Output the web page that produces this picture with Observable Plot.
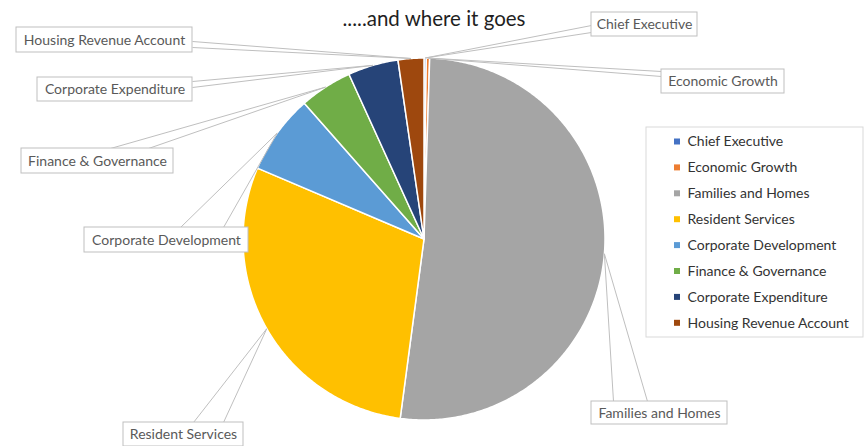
<!DOCTYPE html>
<html><head><meta charset="utf-8">
<script src="https://cdn.jsdelivr.net/npm/d3@7"></script>
<script src="https://cdn.jsdelivr.net/npm/@observablehq/plot@0.6"></script>
<style>body{margin:0;background:#fff;overflow:hidden}</style>
</head><body><div id="chart"></div>
<script>
// ---- data ----
const title = ".....and where it goes";
const categories = ["Chief Executive", "Economic Growth", "Families and Homes", "Resident Services",
  "Corporate Development", "Finance & Governance", "Corporate Expenditure", "Housing Revenue Account"];
const values = [0.2, 0.3, 51.6, 29.3, 7.1, 4.7, 4.5, 2.3];
const colors = ["#4472C4", "#ED7D31", "#A5A5A5", "#FFC000", "#5B9BD5", "#70AD47", "#264478", "#9E480E"];

// ---- layout (pixels) ----
const W = 864, H = 446;
const cx = 423.5, cy = 238.5, R = 181;
// callout boxes [x0, y0, x1, y1] and wedge base points [bx1, by1, bx2, by2], in category order
const calloutBoxes = [
  [591, 12, 697, 36], [661, 69, 784, 93], [591, 401, 727, 424], [123, 422, 243, 446],
  [84, 227, 248, 252], [21, 148, 173, 173], [37, 77, 192, 101], [16, 27, 192, 52]
];
const calloutBases = [
  [591, 25, 591, 32], [661, 71, 661, 76], [613, 401, 647, 401], [193, 422, 223, 422],
  [180, 227, 223, 227], [110, 148, 148, 148], [192, 81, 192, 87], [192, 41, 192, 47]
];
const legendFrame = [646, 127, 863, 337];
const legendTop = 141.5, legendStep = 25.9, legendSwatchX = 677, legendTextX = 687;

// ---- geometry from data ----
const arcs = d3.pie().sort(null).value(d => d.value)(categories.map((name, i) => ({name, value: values[i]})));
const slicePts = arcs.flatMap(a => {
  const name = a.data.name;
  const pts = [{name, x: cx, y: cy}];
  const n = Math.max(2, Math.ceil((a.endAngle - a.startAngle) / 0.01));
  for (let k = 0; k <= n; k++) {
    const t = a.startAngle + (a.endAngle - a.startAngle) * k / n;
    pts.push({name, x: cx + R * Math.sin(t), y: cy - R * Math.cos(t)});
  }
  pts.push({name, x: cx, y: cy});
  return pts;
});
const callouts = arcs.map((a, i) => {
  const m = (a.startAngle + a.endAngle) / 2;
  const [x0, y0, x1, y1] = calloutBoxes[i];
  const [bx1, by1, bx2, by2] = calloutBases[i];
  return {name: a.data.name, x0, y0, x1, y1, bx1, by1, bx2, by2,
    tx: cx + R * Math.sin(m), ty: cy - R * Math.cos(m)};
});
const wedgeLines = callouts.flatMap(c => [
  {x1: c.bx1, y1: c.by1, x2: c.tx, y2: c.ty},
  {x1: c.bx2, y1: c.by2, x2: c.tx, y2: c.ty}
]);
const legendItems = categories.map((name, i) => ({name, y: legendTop + i * legendStep}));

const chart = Plot.plot({
  width: W, height: H, margin: 0,
  x: {domain: [0, W], range: [0, W], axis: null},
  y: {domain: [0, H], range: [0, H], axis: null},
  color: {domain: categories, range: colors},
  style: {fontFamily: "Lato, 'Open Sans', sans-serif", background: "#fff"},
  marks: [
    Plot.line(slicePts, {x: "x", y: "y", z: "name", fill: "name", stroke: "#fff", strokeWidth: 1.5, strokeLinejoin: "round"}),
    Plot.link(wedgeLines, {x1: "x1", y1: "y1", x2: "x2", y2: "y2", stroke: "#BFBFBF", strokeWidth: 1}),
    Plot.rect(callouts, {x1: "x0", y1: "y0", x2: "x1", y2: "y1", fill: "#fff", stroke: "#BFBFBF", strokeWidth: 1}),
    Plot.text(callouts, {x: d => (d.x0 + d.x1) / 2, y: d => (d.y0 + d.y1) / 2 + 0.5, text: "name", fill: "#595959", fontSize: 14}),
    Plot.text([title], {x: 433.5, y: 19, text: d => d, fill: "#1f1f1f", fontSize: 20.5}),
    Plot.rect([legendFrame], {x1: d => d[0], y1: d => d[1], x2: d => d[2], y2: d => d[3], fill: "none", stroke: "#D9D9D9"}),
    Plot.rect(legendItems, {x1: legendSwatchX - 3, x2: legendSwatchX + 3, y1: d => d.y - 3, y2: d => d.y + 3, fill: "name"}),
    Plot.text(legendItems, {x: legendTextX, y: "y", text: "name", textAnchor: "start", fill: "#333333", fontSize: 14})
  ]
});
document.getElementById("chart").appendChild(chart);
</script>
</body></html>
